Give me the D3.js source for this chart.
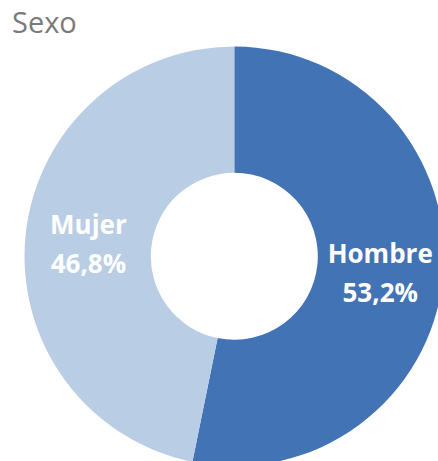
<!DOCTYPE html>
<html><head><meta charset="utf-8">
<script src="https://cdn.jsdelivr.net/npm/d3@7"></script>
<style>html,body{margin:0;padding:0;background:#fff;overflow:hidden}</style>
</head><body>
<svg id="chart" width="438" height="461"></svg>
<script>
const title = "Sexo";
const categories = ["Hombre", "Mujer"];
const values = [53.2, 46.8];
const colors = ["#4273b5", "#b9cde4"];

const svg = d3.select("#chart");
const cx = 234.3, cy = 256.3, outerR = 209.8, innerR = 83.5;

svg.append("text").attr("x", 12).attr("y", 33)
  .attr("font-family", "'Open Sans', sans-serif").attr("font-size", 29)
  .attr("fill", "#7a7a7a").text(title);

const data = categories.map((c, i) => ({cat: c, val: values[i], color: colors[i]}));
const pie = d3.pie().value(d => d.val).sort(null);
const arc = d3.arc().innerRadius(innerR).outerRadius(outerR);
const arcs = pie(data);

const g = svg.append("g").attr("transform", `translate(${cx},${cy})`);
g.selectAll("path").data(arcs).join("path")
  .attr("d", arc).attr("fill", d => d.data.color);

const fmt = v => v.toFixed(1).replace(".", ",") + "%";
const lab = g.selectAll("text.lab").data(arcs).join("text").attr("class", "lab")
  .attr("transform", d => { const c = arc.centroid(d); return `translate(${c[0]},${c[1]})`; })
  .attr("text-anchor", "middle")
  .attr("font-family", "'Open Sans', sans-serif").attr("font-weight", "bold")
  .attr("font-size", 26).attr("fill", "#fff");
lab.append("tspan").attr("x", 0).attr("y", -8).text(d => d.data.cat);
lab.append("tspan").attr("x", 0).attr("y", 31).text(d => fmt(d.data.val));
</script>
</body></html>
